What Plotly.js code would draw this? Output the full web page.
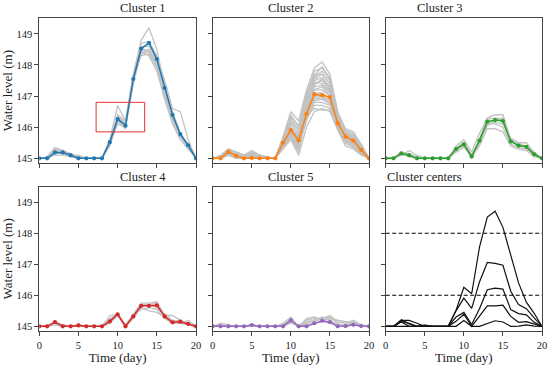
<!DOCTYPE html>
<html>
<head>
<meta charset="utf-8">
<script src="https://cdn.plot.ly/plotly-3.0.1.min.js"></script>
<style>html,body{margin:0;padding:0;background:#fff}#chart{width:550px;height:365px}</style>
</head>
<body>
<div id="chart"></div>
<script>
const days = [0,1,2,3,4,5,6,7,8,9,10,11,12,13,14,15,16,17,18,19,20];
const clusterTitles = ["Cluster 1","Cluster 2","Cluster 3","Cluster 4","Cluster 5","Cluster centers"];
const clusterColors = ["#1f77b4","#ff7f0e","#2ca02c","#d62728","#9467bd"];
const yTicks = [145,146,147,148,149];
const xTicks = [0,5,10,15,20];
const thresholds = [146,148];
const highlightBox = [7.25,13.45,145.85,146.8];

const center1 = [145,145,145.19,145.19,145.1,145,145,145,145,145.52,146.26,146.05,147.55,148.52,148.71,148.19,147.26,146.4,145.78,145.42,145];
const center2 = [145,145,145.21,145.08,145,145.01,145,145,145,145.5,145.91,145.58,146.43,147.06,147.03,146.97,146.13,145.7,145.57,145.27,145];
const center3 = [145,145,145.16,145.1,145,145,145,145,145,145.3,145.45,145.06,145.57,146.18,146.23,146.2,145.54,145.41,145.37,145.13,145];
const center4 = [145,145,145.14,145,145,145.03,145,145,145,145.16,145.39,145,145.32,145.66,145.66,145.68,145.32,145.13,145.15,145.08,145];
const center5 = [145,145,145,145,145,145.04,145,145,145,145,145.19,145,145,145.1,145.18,145.14,145,145.01,145.05,145.01,145];

const members1 = [
 [145,145,145.25,145.2,145.1,145.05,145,145,145,145.6,146.7,146.2,147.7,148.8,149.2,148.5,147.3,146.5,145.8,145.4,145],
 [145,145,145.3,145.25,145.15,145.05,145,145,145,145.5,146.2,146.1,147.5,148.7,148.75,148.3,147.5,146.6,146.5,145.6,145],
 [145,145,145.15,145.15,145.05,145,145,145,145,145.45,146.1,146.0,147.4,148.4,148.5,148.0,147.1,146.3,145.7,145.35,145],
 [145,145,145.2,145.2,145.1,145.0,145,145,145,145.55,146.35,146.1,147.6,148.3,148.35,147.9,147.0,146.2,145.7,145.4,145],
 [145,145.05,145.35,145.25,145.1,145.1,145,145,145,145.5,146.3,146.15,147.7,148.6,148.6,148.1,147.2,146.4,145.8,145.45,145],
 [145,145,145.1,145.1,145.05,145,145,145,145,145.4,146.2,145.95,147.5,148.45,148.3,147.8,146.9,146.1,145.6,145.3,145],
 [145,145,145.2,145.15,145.1,145.05,145,145,145,145.55,146.3,146.1,147.55,148.35,148.45,148.05,147.15,146.35,145.75,145.4,145],
 [145,145,145.25,145.2,145.1,145.05,145,145,145,145.6,146.4,146.2,147.65,148.55,148.4,147.95,147.05,146.25,145.7,145.35,145]
];
const members2 = [
 [145,145.05,145.25,145.15,145.05,145.2,145.1,145,145,145.7,146.5,146.2,147.2,147.9,148.1,147.7,146.5,145.9,145.6,145.3,145],
 [145,145,145.2,145.1,145,145.1,145.05,145,145,145.6,146.3,145.9,147.0,147.8,147.9,147.6,146.4,145.8,145.7,145.4,145],
 [145,145.1,145.3,145.2,145.1,145.25,145.1,145.05,145,145.5,146.0,145.6,146.9,147.6,147.8,147.5,146.3,145.8,145.6,145.3,145],
 [145,145,145.15,145.05,145,145.05,145,145,145,145.4,145.8,145.3,146.7,147.5,147.6,147.3,146.2,145.7,145.5,145.2,145],
 [145,145,145.25,145.1,145,145.0,145,145,145,145.55,146.1,145.8,146.8,147.4,147.5,147.2,146.3,145.9,145.8,145.45,145],
 [145,145.05,145.2,145.1,145.05,145.1,145.05,145,145,145.45,145.9,145.5,146.6,147.3,147.35,147.1,146.1,145.6,145.5,145.25,145],
 [145,145,145.1,145.05,145,145,145,145,145,145.35,145.7,145.2,146.5,147.2,147.2,147.0,146.0,145.6,145.4,145.2,145],
 [145,145,145.2,145.1,145,145.05,145,145,145,145.6,146.2,145.9,146.6,147.1,147.1,146.9,146.2,145.75,145.6,145.3,145],
 [145,145,145.25,145.15,145.05,145.15,145.05,145,145,145.5,145.85,145.4,146.3,146.9,146.95,146.8,146.0,145.6,145.45,145.2,145],
 [145,145,145.15,145.05,145,145.0,145,145,145,145.4,145.75,145.35,146.2,146.8,146.8,146.7,145.95,145.5,145.35,145.15,145],
 [145,145,145.2,145.1,145,145.05,145,145,145,145.5,146.0,145.7,146.3,146.7,146.7,146.6,146.0,145.7,145.6,145.35,145],
 [145,145,145.1,145.0,145,145.0,145,145,145,145.3,145.6,145.1,146.0,146.5,146.6,146.5,145.9,145.4,145.3,145.1,145],
 [145,145.05,145.3,145.2,145.1,145.2,145.1,145,145,145.65,146.4,146.0,147.1,147.7,147.7,147.4,146.4,145.85,145.75,145.4,145],
 [145,145,145.2,145.1,145,145.1,145,145,145,145.5,145.95,145.6,146.8,147.45,147.4,147.15,146.25,145.8,145.65,145.3,145],
 [145,145,145.15,145.05,145,145.05,145,145,145,145.45,145.8,145.45,146.5,147.0,147.05,146.95,146.1,145.65,145.55,145.25,145],
 [145,145,145.2,145.1,145.05,145.1,145.05,145,145,145.55,146.0,145.65,146.7,147.2,147.3,147.0,146.15,145.7,145.5,145.25,145],
 [145,145.05,145.25,145.2,145.1,145.15,145.1,145.05,145,145.6,146.35,146.05,147.0,147.65,147.95,147.55,146.45,145.95,145.85,145.45,145],
 [145,145,145.1,145.05,145,145.05,145,145,145,145.35,145.65,145.25,146.4,146.95,147.0,146.85,146.0,145.55,145.4,145.15,145],
 [145,145,145.2,145.1,145.05,145.1,145.05,145,145,145.5,145.9,145.55,146.55,147.35,147.55,147.25,146.3,145.75,145.6,145.3,145],
 [145,145,145.15,145.1,145,145.05,145,145,145,145.45,145.85,145.5,146.4,146.85,146.9,146.75,146.05,145.6,145.5,145.2,145],
 [145,145.05,145.25,145.15,145.05,145.15,145.05,145,145,145.55,146.15,145.75,146.95,147.55,147.7,147.4,146.35,145.85,145.7,145.35,145],
 [145,145,145.15,145.05,145,145.0,145,145,145,145.4,145.7,145.3,146.35,146.6,146.55,146.55,145.95,145.5,145.35,145.15,145]
];
const members3 = [
 [145,145,145.1,145.25,145.1,145,145,145,145,145.4,145.6,145.2,145.8,146.3,146.4,146.4,145.6,145.5,145.5,145.2,145],
 [145,145,145.2,145.1,145,145,145,145,145,145.25,145.45,145.0,145.5,146.1,146.2,146.3,145.6,145.4,145.4,145.15,145],
 [145,145,145.15,145.05,145,145,145,145,145,145.3,145.5,145.1,145.6,146.2,146.1,146.0,145.45,145.35,145.3,145.1,145],
 [145,145,145.1,145.1,145,145,145,145,145,145.2,145.35,145.05,145.4,145.95,145.95,145.85,145.4,145.3,145.25,145.05,145],
 [145,145,145.2,145.15,145.05,145,145,145,145,145.35,145.5,145.0,145.6,146.25,146.3,146.25,145.55,145.45,145.4,145.15,145],
 [145,145,145.15,145.1,145,145,145,145,145,145.3,145.4,145.1,145.55,146.05,146.15,146.1,145.65,145.5,145.35,145.1,145]
];
const members4 = [
 [145,145,145.1,145.05,145,145.05,145,145,145,145.35,145.4,145.05,145.4,145.75,145.75,145.8,145.35,145.35,145.2,145.1,145],
 [145,145,145.15,145,145,145.0,145,145,145,145.1,145.35,145,145.25,145.6,145.5,145.45,145.3,145.1,145.1,145.2,145],
 [145,145,145.1,145,145,145.05,145,145,145,145.2,145.4,145,145.3,145.7,145.7,145.75,145.3,145.15,145.2,145.05,145],
 [145,145,145.15,145.05,145,145,145,145,145,145.1,145.35,145.0,145.35,145.55,145.6,145.55,145.25,145.1,145.1,145.05,145],
 [145,145,145.05,145,145,145.05,145,145,145,145.25,145.4,145.05,145.3,145.65,145.7,145.6,145.4,145.2,145.15,145.1,145]
];
const members5 = [
 [145,145.1,145.05,145,145,145.05,145,145,145,145.1,145.3,145,145.2,145.25,145.25,145.35,145.15,145.1,145.2,145.05,145],
 [145,145.05,145,145,145,145.05,145,145,145,145.05,145.25,145,145.25,145.3,145.2,145.25,145.2,145.15,145.1,145,145],
 [145,145,145.05,145,145,145,145,145,145,145,145.15,145,145.15,145.2,145.3,145.2,145.05,145.05,145.15,145.05,145],
 [145,145,145,145,145,145.05,145,145,145,145.05,145.2,145,145.1,145.15,145.25,145.3,145.1,145.0,145.1,145,145],
 [145,145.05,145,145,145,145,145,145,145,145,145.1,145,145.05,145.1,145.15,145.1,145,145,145.05,145,145]
];

const centers = [center1,center2,center3,center4,center5];
const members = [members1,members2,members3,members4,members5];

const FONT = "Liberation Serif, Times New Roman, serif";
const traces = [];
for (let k = 0; k < 5; k++) {
  const ax = k === 0 ? "" : String(k+1);
  members[k].forEach(m => traces.push({
    x: days, y: m, type: "scatter", mode: "lines",
    line: {color: "#c2c2c2", width: 1.3}, xaxis: "x"+ax, yaxis: "y"+ax, hoverinfo: "skip"
  }));
  traces.push({
    x: days, y: centers[k], type: "scatter", mode: "lines+markers",
    line: {color: clusterColors[k], width: 1.5},
    marker: {color: clusterColors[k], size: 4.2},
    xaxis: "x"+ax, yaxis: "y"+ax
  });
}
thresholds.forEach(t => traces.push({
  x: [days[0], days[days.length-1]], y: [t, t], type: "scatter", mode: "lines",
  line: {color: "#000", width: 1.1, dash: "4px,2.5px"}, xaxis: "x6", yaxis: "y6"
}));
centers.forEach(c => traces.push({
  x: days, y: c, type: "scatter", mode: "lines",
  line: {color: "#111", width: 1.2}, xaxis: "x6", yaxis: "y6"
}));

const colDom = [[39.3/550, 196/550],[212.7/550, 369/550],[385.7/550, 542/550]];
const rowDom = [[1-163/365, 1-18.3/365],[1-331/365, 1-186.7/365]];

const layout = {
  width: 550, height: 365, showlegend: false,
  margin: {l:0, r:0, t:0, b:0},
  paper_bgcolor: "#fff", plot_bgcolor: "#fff",
  font: {family: FONT, color: "#222", size: 10},
  annotations: [], shapes: []
};
for (let i = 0; i < 6; i++) {
  const r = Math.floor(i/3), c = i % 3;
  const ax = i === 0 ? "" : String(i+1);
  const xa = {
    domain: colDom[c], range: [0,20], tickvals: xTicks, ticks: "outside", ticklen: 4,
    tickcolor: "#444", showline: true, linecolor: "#444", linewidth: 1, mirror: true,
    showgrid: false, zeroline: false, showticklabels: r === 1,
    tickfont: {family: FONT, size: 10.5, color: "#222"},
    anchor: "y"+ax
  };
  if (r === 1) xa.title = {text: "Time (day)", font: {family: FONT, size: 13, color: "#222"}, standoff: 2};
  const ya = {
    domain: rowDom[r], range: [144.85,149.5], tickvals: yTicks, ticks: "outside", ticklen: 4,
    tickcolor: "#444", showline: true, linecolor: "#444", linewidth: 1, mirror: true,
    showgrid: false, zeroline: false, showticklabels: c === 0,
    tickfont: {family: FONT, size: 10.5, color: "#222"},
    anchor: "x"+ax
  };
  if (c === 0) ya.title = {text: "Water level (m)", font: {family: FONT, size: 13, color: "#222"}, standoff: 4};
  layout["xaxis"+ax] = xa;
  layout["yaxis"+ax] = ya;
  layout.annotations.push({
    text: clusterTitles[i], xref: "paper", yref: "paper",
    x: (colDom[c][0]+colDom[c][1])/2, y: rowDom[r][1], yanchor: "bottom", yshift: 1,
    showarrow: false, font: {family: FONT, size: 12.5, color: "#222"}
  });
}
layout.shapes.push({
  type: "rect", xref: "x", yref: "y",
  x0: highlightBox[0], x1: highlightBox[1], y0: highlightBox[2], y1: highlightBox[3],
  line: {color: "#e8322d", width: 1}
});

Plotly.newPlot("chart", traces, layout, {displayModeBar: false, staticPlot: true});
</script>
</body>
</html>
